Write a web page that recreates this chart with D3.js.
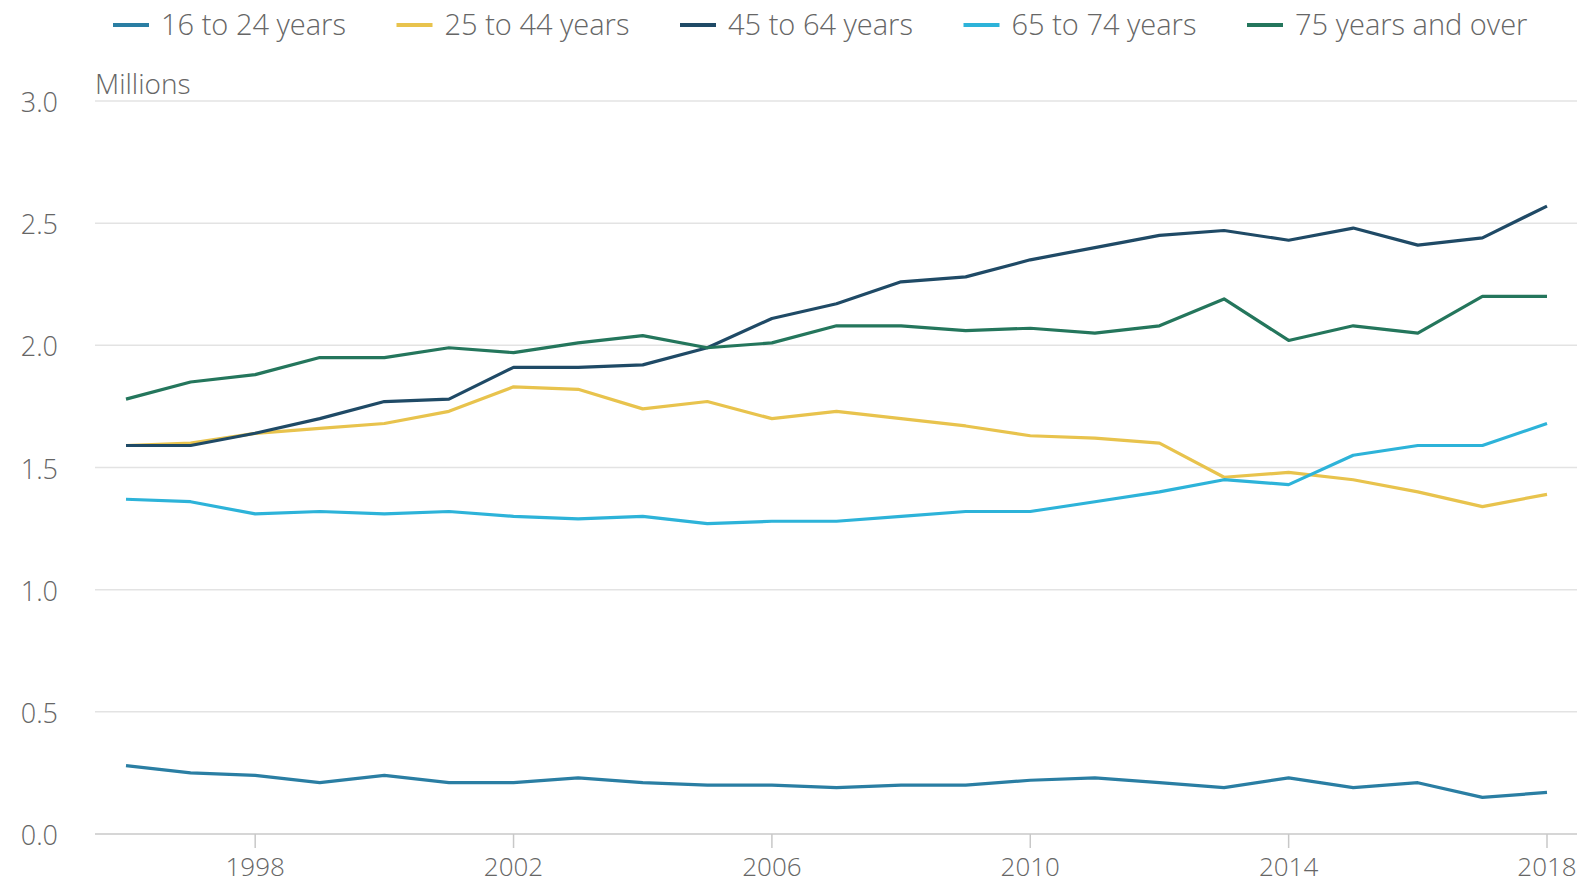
<!DOCTYPE html>
<html>
<head>
<meta charset="utf-8">
<script src="https://cdn.jsdelivr.net/npm/d3@7"></script>
<style>
  body { margin: 0; background: #fff; }
  text { font-family: "Open Sans", sans-serif; fill: #666; font-weight: 300; }
</style>
</head>
<body>
<div id="chart"></div>
<script>
var years = d3.range(1996, 2019);
var seriesNames = ["16 to 24 years", "25 to 44 years", "45 to 64 years", "65 to 74 years", "75 years and over"];
var colors = ["#2a7ea3", "#e8c34d", "#1f4a66", "#2db3d9", "#24765c"];

var age16to24 = [0.28, 0.25, 0.24, 0.21, 0.24, 0.21, 0.21, 0.23, 0.21, 0.20, 0.20, 0.19, 0.20, 0.20, 0.22, 0.23, 0.21, 0.19, 0.23, 0.19, 0.21, 0.15, 0.17];
var age25to44 = [1.59, 1.60, 1.64, 1.66, 1.68, 1.73, 1.83, 1.82, 1.74, 1.77, 1.70, 1.73, 1.70, 1.67, 1.63, 1.62, 1.60, 1.46, 1.48, 1.45, 1.40, 1.34, 1.39];
var age45to64 = [1.59, 1.59, 1.64, 1.70, 1.77, 1.78, 1.91, 1.91, 1.92, 1.99, 2.11, 2.17, 2.26, 2.28, 2.35, 2.40, 2.45, 2.47, 2.43, 2.48, 2.41, 2.44, 2.57];
var age65to74 = [1.37, 1.36, 1.31, 1.32, 1.31, 1.32, 1.30, 1.29, 1.30, 1.27, 1.28, 1.28, 1.30, 1.32, 1.32, 1.36, 1.40, 1.45, 1.43, 1.55, 1.59, 1.59, 1.68];
var age75plus = [1.78, 1.85, 1.88, 1.95, 1.95, 1.99, 1.97, 2.01, 2.04, 1.99, 2.01, 2.08, 2.08, 2.06, 2.07, 2.05, 2.08, 2.19, 2.02, 2.08, 2.05, 2.20, 2.20];

var yTicks = [0, 0.5, 1.0, 1.5, 2.0, 2.5, 3.0];
var xTicks = [1998, 2002, 2006, 2010, 2014, 2018];

var allSeries = [age16to24, age25to44, age45to64, age65to74, age75plus];

var W = 1577, H = 886;
var plotLeft = 95, plotRight = 1577;

var svg = d3.select("#chart").append("svg")
    .attr("width", W)
    .attr("height", H);

var x = d3.scaleLinear().domain([1996, 2018]).range([126, 1547]);
var y = d3.scaleLinear().domain([0, 3]).range([834, 101]);

// gridlines
svg.append("g").selectAll("line")
  .data(yTicks)
  .enter().append("line")
    .attr("x1", plotLeft)
    .attr("x2", plotRight)
    .attr("y1", function(d) { return y(d); })
    .attr("y2", function(d) { return y(d); })
    .attr("stroke", function(d) { return d === 0 ? "#c8c8c8" : "#e3e3e3"; })
    .attr("stroke-width", 1.5);

// y labels
svg.append("g").selectAll("text")
  .data(yTicks)
  .enter().append("text")
    .attr("x", 58)
    .attr("y", function(d) { return y(d) + 11; })
    .attr("text-anchor", "end")
    .style("font-size", "27px")
    .text(function(d) { return d.toFixed(1); });

// x ticks and labels
var xg = svg.append("g");
xg.selectAll("line")
  .data(xTicks)
  .enter().append("line")
    .attr("x1", function(d) { return x(d); })
    .attr("x2", function(d) { return x(d); })
    .attr("y1", y(0))
    .attr("y2", y(0) + 14)
    .attr("stroke", "#c8c8c8")
    .attr("stroke-width", 1.5);
xg.selectAll("text")
  .data(xTicks)
  .enter().append("text")
    .attr("x", function(d) { return x(d); })
    .attr("y", 876)
    .attr("text-anchor", "middle")
    .style("font-size", "26px")
    .text(function(d) { return d; });

svg.append("text")
    .attr("x", 95)
    .attr("y", 94)
    .style("font-size", "28px")
    .text("Millions");

// lines
var line = d3.line()
    .x(function(d, i) { return x(years[i]); })
    .y(function(d) { return y(d); });

svg.append("g").selectAll("path")
  .data(allSeries)
  .enter().append("path")
    .attr("d", line)
    .attr("fill", "none")
    .attr("stroke", function(d, i) { return colors[i]; })
    .attr("stroke-width", 3.2)
    .attr("stroke-linejoin", "round");

// legend, evenly spaced slots
var legend = svg.append("g").selectAll("g")
  .data(seriesNames)
  .enter().append("g")
    .attr("transform", function(d, i) { return "translate(" + (113 + i * 283.5) + ",0)"; });

legend.append("line")
    .attr("x1", 0).attr("x2", 36)
    .attr("y1", 25).attr("y2", 25)
    .attr("stroke", function(d, i) { return colors[i]; })
    .attr("stroke-width", 4);

legend.append("text")
    .attr("x", 48)
    .attr("y", 35)
    .style("font-size", "29px")
    .text(function(d) { return d; });
</script>
</body>
</html>
